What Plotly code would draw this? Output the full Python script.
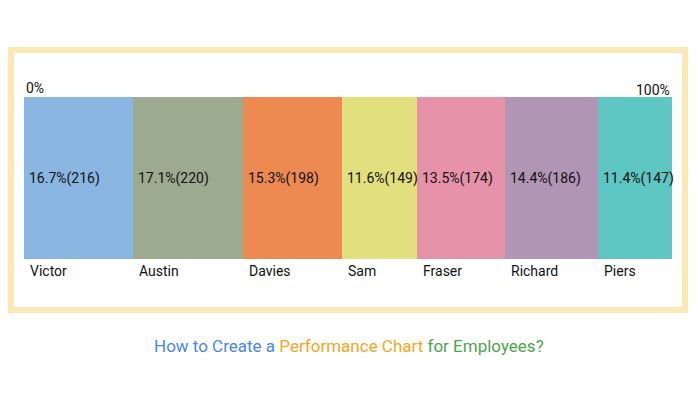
import plotly.graph_objects as go

names = ["Victor", "Austin", "Davies", "Sam", "Fraser", "Richard", "Piers"]
values = [216, 220, 198, 149, 174, 186, 147]
colors = ["#89B7E1", "#9CAA8F", "#EC8A52", "#E2DF7E", "#E692A8", "#B195B4", "#5EC6C3"]
title_parts = [("How to Create a ", "#4A86E8"), ("Performance Chart", "#F6A623"), (" for Employees?", "#4CA64C")]

total = sum(values)
pcts = [v / total * 100 for v in values]
starts = []
acc = 0
for p in pcts:
    starts.append(acc)
    acc += p

W, H = 698, 400
fig = go.Figure()
for n, p, c in zip(names, pcts, colors):
    fig.add_trace(go.Bar(y=[0], x=[p], orientation="h", name=n, marker=dict(color=c, line=dict(width=0)),
                         width=1, hoverinfo="skip"))

font = dict(family="Roboto, Arial, sans-serif", size=14, color="#111111")
ann = []
for n, v, p, s in zip(names, values, pcts, starts):
    ann.append(dict(x=s, y=0, xref="x", yref="y", text=f"{p:.1f}%({v})", showarrow=False,
                    xanchor="left", yanchor="middle", xshift=3, font=font))
    ann.append(dict(x=s, y=(400 - 271) / H, xref="x", yref="paper", text=n, showarrow=False,
                    xanchor="left", yanchor="middle", xshift=4, font=font))
ann.append(dict(x=0, y=(400 - 88) / H, xref="x", yref="paper", text="0%", showarrow=False,
                xanchor="left", yanchor="middle", xshift=0, font=font))
ann.append(dict(x=100, y=(400 - 90) / H, xref="x", yref="paper", text="100%", showarrow=False,
                xanchor="right", yanchor="middle", xshift=0, font=font))
title_html = "".join(f"<span style='color:{c}'>{t}</span>" for t, c in title_parts)
ann.append(dict(x=0.5, y=(400 - 346) / H, xref="paper", yref="paper", text=title_html, showarrow=False,
                xanchor="center", yanchor="middle", font=dict(family="Roboto, Arial, sans-serif", size=17)))

fig.update_layout(
    width=W, height=H, margin=dict(l=0, r=0, t=0, b=0),
    paper_bgcolor="white", plot_bgcolor="white",
    barmode="stack", bargap=0, showlegend=False,
    xaxis=dict(range=[0, 100], domain=[24 / W, 672 / W], visible=False, fixedrange=True),
    yaxis=dict(range=[-0.5, 0.5], domain=[(400 - 259) / H, (400 - 97) / H], visible=False, fixedrange=True),
    annotations=ann,
    shapes=[dict(type="rect", xref="paper", yref="paper",
                 x0=11 / W, x1=685 / W, y0=(400 - 310) / H, y1=(400 - 50) / H,
                 line=dict(color="#FEE8B6", width=6), fillcolor="rgba(0,0,0,0)", layer="below")],
)
fig.write_html("out.html")
